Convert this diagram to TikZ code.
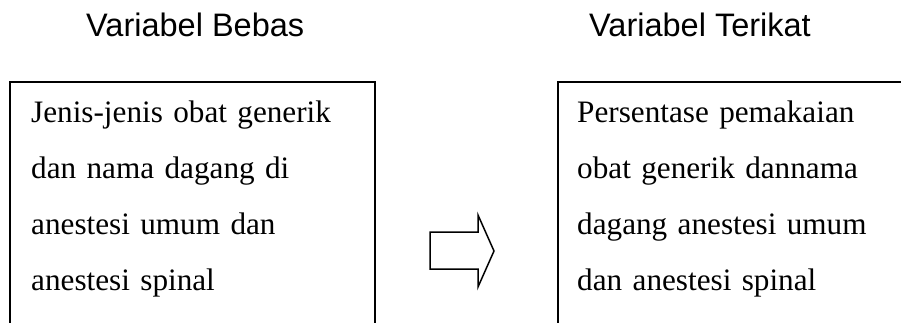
\documentclass[tikz,border=0pt]{standalone}
\usepackage{fontspec}
\setmainfont{Liberation Serif}
\newfontfamily\judulfont{Liberation Sans}
\tikzset{
  judul/.style={font=\judulfont\fontsize{32.5}{38}\selectfont, anchor=base west, inner sep=0pt},
  isi/.style={font=\fontsize{31.2}{56}\selectfont, anchor=base west, inner sep=0pt, text width=330pt, align=left},
  garis/.style={line width=1.5pt},
}
\begin{document}
\begin{tikzpicture}[x=1pt,y=1pt]

\clip (0,0) rectangle (901,322);

\node[judul] (judulbebas) at (86,285) {Variabel Bebas};
\node[judul] (judulterikat) at (589,285) {Variabel Terikat};

% kotak (terbuka di bawah)
\draw[garis] (10,-10) -- (10,240) -- (375,240) -- (375,-10);
\draw[garis] (558,-10) -- (558,240) -- (920,240);

\node[isi] (bebas) at (31,200) {Jenis-jenis obat generik\\ dan nama dagang di\\ anestesi umum dan\\ anestesi spinal};
\node[isi] (terikat) at (577,200) {Persentase pemakaian\\ obat generik dannama\\ dagang anestesi umum\\ dan anestesi spinal};

% panah blok
\draw[garis] (430,90) -- (478,90) -- (478,107) -- (494,71) -- (478,35) -- (478,53) -- (430,53) -- cycle;

\end{tikzpicture}
\end{document}
